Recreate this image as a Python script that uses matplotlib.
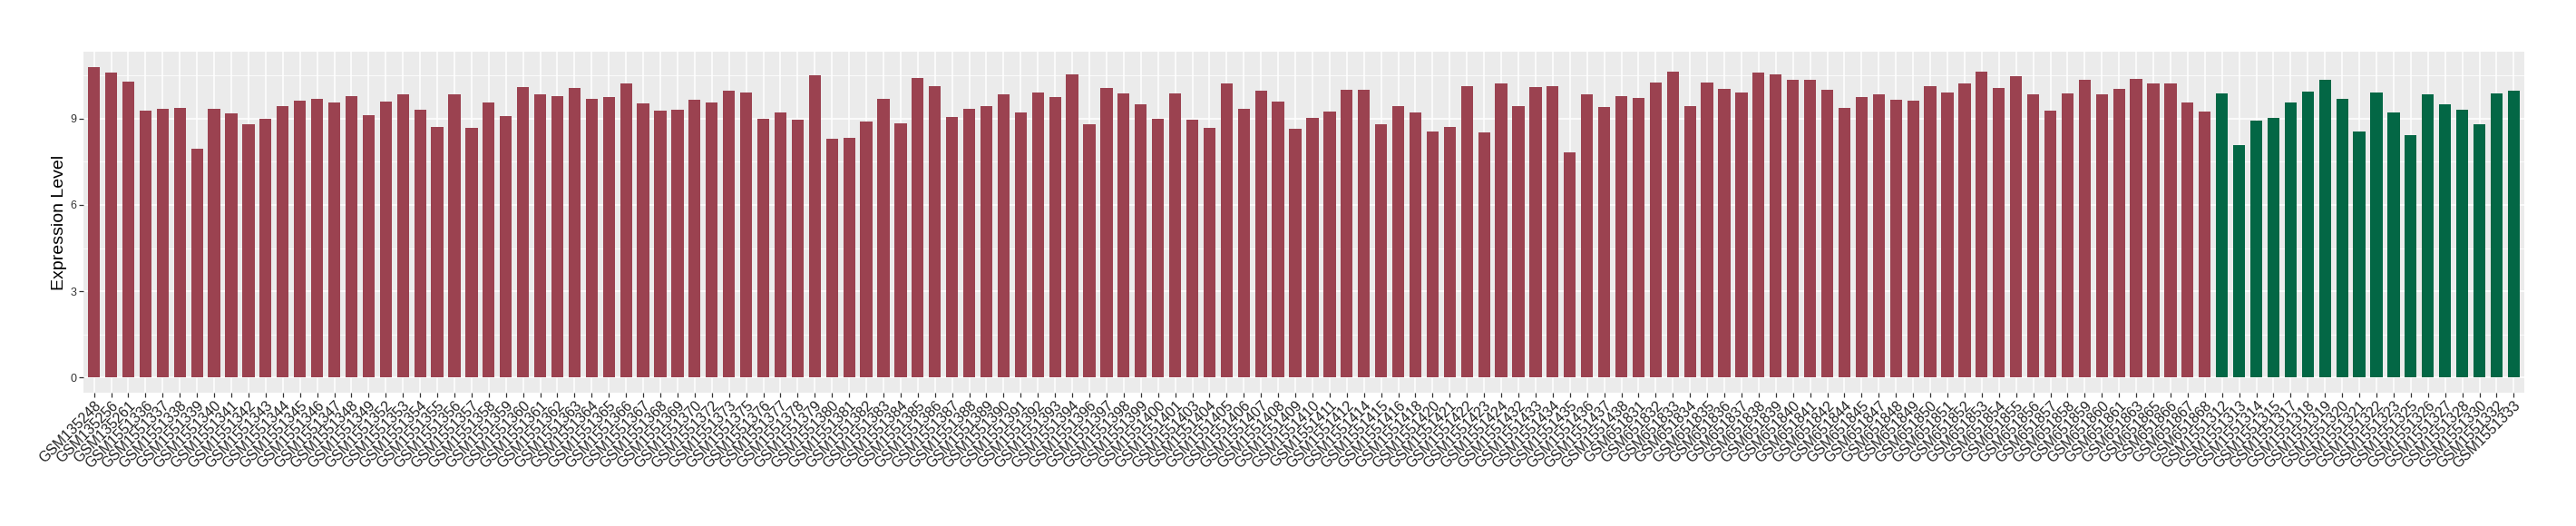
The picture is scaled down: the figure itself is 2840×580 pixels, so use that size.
import matplotlib
matplotlib.use("Agg")
import matplotlib.pyplot as plt
import matplotlib.transforms as mtransforms
from matplotlib.ticker import FixedLocator

plt.rcParams['font.family'] = ['Liberation Sans', 'DejaVu Sans']

samples = [
    "GSM135248", "GSM135256", "GSM135261",
    "GSM1551336", "GSM1551337", "GSM1551338", "GSM1551339", "GSM1551340",
    "GSM1551341", "GSM1551342", "GSM1551343", "GSM1551344", "GSM1551345",
    "GSM1551346", "GSM1551347", "GSM1551348", "GSM1551349", "GSM1551352",
    "GSM1551353", "GSM1551354", "GSM1551355", "GSM1551356", "GSM1551357",
    "GSM1551358", "GSM1551359", "GSM1551360", "GSM1551361", "GSM1551362",
    "GSM1551363", "GSM1551364", "GSM1551365", "GSM1551366", "GSM1551367",
    "GSM1551368", "GSM1551369", "GSM1551370", "GSM1551372", "GSM1551373",
    "GSM1551375", "GSM1551376", "GSM1551377", "GSM1551378", "GSM1551379",
    "GSM1551380", "GSM1551381", "GSM1551382", "GSM1551383", "GSM1551384",
    "GSM1551385", "GSM1551386", "GSM1551387", "GSM1551388", "GSM1551389",
    "GSM1551390", "GSM1551391", "GSM1551392", "GSM1551393", "GSM1551394",
    "GSM1551396", "GSM1551397", "GSM1551398", "GSM1551399", "GSM1551400",
    "GSM1551401", "GSM1551403", "GSM1551404", "GSM1551405", "GSM1551406",
    "GSM1551407", "GSM1551408", "GSM1551409", "GSM1551410", "GSM1551411",
    "GSM1551412", "GSM1551414", "GSM1551415", "GSM1551416", "GSM1551418",
    "GSM1551420", "GSM1551421", "GSM1551422", "GSM1551423", "GSM1551424",
    "GSM1551432", "GSM1551433", "GSM1551434", "GSM1551435", "GSM1551436",
    "GSM1551437", "GSM1551438",
    "GSM651831", "GSM651832", "GSM651833", "GSM651834", "GSM651835",
    "GSM651836", "GSM651837", "GSM651838", "GSM651839", "GSM651840",
    "GSM651841", "GSM651842", "GSM651844", "GSM651845", "GSM651847",
    "GSM651848", "GSM651849", "GSM651850", "GSM651851", "GSM651852",
    "GSM651853", "GSM651854", "GSM651855", "GSM651856", "GSM651857",
    "GSM651858", "GSM651859", "GSM651860", "GSM651861", "GSM651863",
    "GSM651865", "GSM651866", "GSM651867", "GSM651868",
    "GSM1551312", "GSM1551313", "GSM1551314", "GSM1551315", "GSM1551317",
    "GSM1551318", "GSM1551319", "GSM1551320", "GSM1551321", "GSM1551322",
    "GSM1551323", "GSM1551325", "GSM1551326", "GSM1551327", "GSM1551328",
    "GSM1551330", "GSM1551332", "GSM1551333",
]

values = [
    10.80, 10.61, 10.29, 9.27, 9.34, 9.37, 7.94, 9.34, 9.18, 8.80,
    8.99, 9.43, 9.62, 9.69, 9.56, 9.78, 9.12, 9.59, 9.85, 9.31,
    8.70, 9.85, 8.67, 9.56, 9.08, 10.10, 9.85, 9.78, 10.07, 9.69,
    9.75, 10.23, 9.53, 9.27, 9.31, 9.65, 9.56, 9.97, 9.91, 8.99,
    9.21, 8.96, 10.51, 8.29, 8.32, 8.89, 9.69, 8.83, 10.42, 10.13,
    9.05, 9.34, 9.43, 9.85, 9.21, 9.91, 9.75, 10.54, 8.80, 10.07,
    9.88, 9.50, 8.99, 9.88, 8.96, 8.67, 10.23, 9.34, 9.97, 9.59,
    8.64, 9.02, 9.24, 10.00, 10.00, 8.80, 9.43, 9.21, 8.55, 8.70,
    10.13, 8.51, 10.23, 9.43, 10.10, 10.13, 7.82, 9.85, 9.40, 9.78,
    9.72, 10.26, 10.64, 9.43, 10.26, 10.04, 9.91, 10.61, 10.54, 10.35,
    10.35, 10.00, 9.37, 9.75, 9.85, 9.65, 9.62, 10.13, 9.91, 10.23,
    10.64, 10.07, 10.48, 9.85, 9.27, 9.88, 10.35, 9.85, 10.04, 10.38,
    10.23, 10.23, 9.56, 9.24,
    9.88, 8.07, 8.93, 9.02, 9.56, 9.94, 10.35, 9.69, 8.55, 9.91,
    9.21, 8.42, 9.85, 9.50, 9.31, 8.80, 9.88, 9.97,
]

n_tumor = 124
n_normal = 18
groups = ["Tumor"] * n_tumor + ["Normal"] * n_normal
palette = {"Tumor": "#9B4250", "Normal": "#036745"}

y_ticks = [0, 3, 6, 9]
y_minor = [1.5, 4.5, 7.5, 10.5]

W, H = 2840, 580
fig = plt.figure(figsize=(W / 100, H / 100), dpi=100)
left, right, top, bottom = 92.3, 2782.7, 56.7, 433.3
ax = fig.add_axes([left / W, 1 - bottom / H, (right - left) / W, (bottom - top) / H])

x = list(range(len(samples)))
ax.bar(x, values, width=0.7, color=[palette[g] for g in groups], zorder=3)

vmax = max(values)
ax.set_xlim(-0.6, len(samples) - 1 + 0.6)
ax.set_ylim(-0.05 * vmax, 1.05 * vmax)

ax.set_facecolor("#EBEBEB")
for s in ax.spines.values():
    s.set_visible(False)

ax.yaxis.set_major_locator(FixedLocator(y_ticks))
ax.yaxis.set_minor_locator(FixedLocator(y_minor))
ax.set_yticklabels([str(t) for t in y_ticks])
ax.set_xticks(x)
ax.set_xticklabels(samples, rotation=45, ha="right", va="top",
                   rotation_mode="anchor", fontsize=11.4, color="#222222")
offset = mtransforms.ScaledTranslation(4 / 100, 0, fig.dpi_scale_trans)
for lab in ax.get_xticklabels():
    lab.set_transform(lab.get_transform() + offset)

ax.grid(which="major", color="white", linewidth=1.1, zorder=0)
ax.grid(which="minor", axis="y", color="white", linewidth=0.55, zorder=0)
ax.set_axisbelow(True)
ax.tick_params(axis="both", which="major", length=3.5, width=0.9, color="#333333")
ax.tick_params(axis="x", which="major", pad=0.8)
ax.tick_params(axis="y", which="major", pad=2, labelsize=9, labelcolor="#333333")
ax.tick_params(axis="y", which="minor", length=0)

ax.set_ylabel("Expression Level", fontsize=14, color="black")
ax.yaxis.set_label_coords(-0.0068, 0.5)

fig.savefig("out.png", dpi=100, facecolor="white")
